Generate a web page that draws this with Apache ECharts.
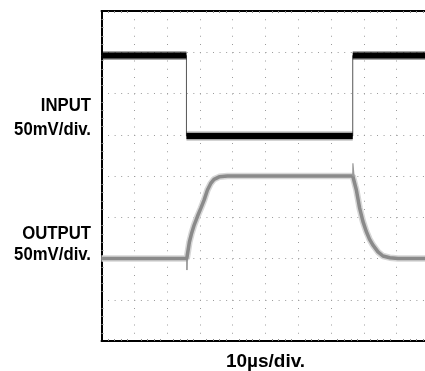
<!DOCTYPE html>
<html>
<head>
<meta charset="utf-8">
<script src="https://cdn.jsdelivr.net/npm/echarts@6/dist/echarts.min.js"></script>
<style>
html,body{margin:0;padding:0;background:#fff;}
#chart{width:425px;height:371px;}
</style>
</head>
<body>
<div id="chart"></div>
<script>
// Scope trace values, in divisions (x: 0..10 time divisions, y: 0..8 vertical divisions)
const xTicks = [0, 1, 2, 3, 4, 5, 6, 7, 8, 9, 10];
const yTicks = [0, 1, 2, 3, 4, 5, 6, 7, 8];

const inputX = [0, 2.59, 2.59, 7.66, 7.66, 10];
const inputY = [6.92, 6.92, 4.97, 4.97, 6.92, 6.92];

const outputX = [0, 2.60, 2.62, 2.68, 2.75, 2.82, 2.93, 3.03, 3.13, 3.23, 3.33, 3.43, 3.59, 3.84, 7.66, 7.70, 7.77, 7.87, 7.97, 8.07, 8.17, 8.28, 8.43, 8.58, 8.79, 9.04, 10];
const outputY = [2.0, 2.0, 2.10, 2.40, 2.62, 2.80, 3.03, 3.22, 3.42, 3.66, 3.82, 3.92, 3.98, 4.0, 4.0, 3.98, 3.66, 3.22, 2.90, 2.66, 2.47, 2.32, 2.16, 2.06, 2.02, 2.0, 2.0];

const riseGlitchX = [2.60, 2.605, 2.62];
const riseGlitchY = [2.0, 1.72, 2.10];
const fallGlitchX = [7.66, 7.665, 7.70];
const fallGlitchY = [4.0, 4.31, 3.98];

const labels = ['INPUT', '50mV/div.', 'OUTPUT', '50mV/div.'];
const xAxisLabel = '10µs/div.';

const zip = (xs, ys) => xs.map((x, i) => [x, ys[i]]);

// split input into flat plateaus (thick, noisy band); edges are drawn thin
function plateaus(xs, ys) {
  const out = [];
  for (let i = 0; i < xs.length - 1; i++) {
    if (ys[i] === ys[i + 1]) {
      out.push([xs[i], ys[i]], [xs[i + 1], ys[i + 1]], '-');
    }
  }
  return out;
}

const FONT = "'Liberation Sans', Arial, sans-serif";
const chart = echarts.init(document.getElementById('chart'), null, {renderer: 'canvas'});

const dotGrey = '#9a9a9a';
function labelText(txt, y) {
  return {
    type: 'text', x: 91, y: y, scaleX: 0.93, scaleY: 1, silent: true,
    style: {text: txt, x: 0, y: 0, font: "bold 18px " + FONT, fill: '#000',
            textAlign: 'right', textVerticalAlign: 'middle'}
  };
}
const minor = {show: true, splitNumber: 5, length: 2, lineStyle: {color: '#888', width: 1}};
const option = {
  animation: false,
  backgroundColor: '#ffffff',
  grid: {left: 101.5, top: 11, width: 328, height: 330, containLabel: false, outerBoundsMode: 'none'},
  xAxis: [{
    type: 'value', min: 0, max: 10, interval: 1, position: 'bottom',
    name: xAxisLabel, nameLocation: 'middle', nameGap: 20.5,
    nameTextStyle: {fontFamily: FONT, fontWeight: 'bold', fontSize: 19, color: '#000', verticalAlign: 'middle'},
    axisLine: {show: true, onZero: false, lineStyle: {color: '#000', width: 2}},
    axisTick: {show: false, inside: true},
    minorTick: minor,
    axisLabel: {show: false},
    splitLine: {show: true, lineStyle: {color: dotGrey, width: 1, type: [1, 7.25]}}
  }, {
    type: 'value', min: 0, max: 10, interval: 1, position: 'top',
    axisLine: {show: true, onZero: false, lineStyle: {color: '#000', width: 2}},
    axisTick: {show: false, inside: true},
    minorTick: minor,
    axisLabel: {show: false},
    splitLine: {show: false}
  }],
  yAxis: [{
    type: 'value', min: 0, max: 8, interval: 1, position: 'left',
    axisLine: {show: true, onZero: false, lineStyle: {color: '#000', width: 2}},
    axisTick: {show: false, inside: true},
    minorTick: minor,
    axisLabel: {show: false},
    splitLine: {show: true, lineStyle: {color: dotGrey, width: 1, type: [1, 5.56]}}
  }, {
    type: 'value', min: 0, max: 8, interval: 1, position: 'right',
    axisLine: {show: true, onZero: false, lineStyle: {color: '#000', width: 2}},
    axisTick: {show: false}, axisLabel: {show: false}, splitLine: {show: false}
  }],
  series: [
    // output trace: soft halo + core + thin glitches
    {type: 'line', data: zip(outputX, outputY), showSymbol: false,
     lineStyle: {color: '#d6d6d6', width: 6.5}, z: 2, silent: true},
    {type: 'line', data: zip(outputX, outputY), showSymbol: false,
     lineStyle: {color: '#8a8a8a', width: 3.5}, z: 3, silent: true},
    {type: 'line', data: zip(riseGlitchX, riseGlitchY), showSymbol: false,
     lineStyle: {color: '#8a8a8a', width: 1}, z: 3, silent: true},
    {type: 'line', data: zip(fallGlitchX, fallGlitchY), showSymbol: false,
     lineStyle: {color: '#9a9a9a', width: 1.2}, z: 3, silent: true},
    // input trace: thin edges + thick noisy plateaus
    {type: 'line', data: zip(inputX, inputY), showSymbol: false,
     lineStyle: {color: '#555', width: 1}, z: 4, silent: true},
    {type: 'line', data: plateaus(inputX, inputY), showSymbol: false, connectNulls: false,
     lineStyle: {color: 'rgba(0,0,0,0.35)', width: 9, cap: 'butt'}, z: 4, silent: true},
    {type: 'line', data: plateaus(inputX, inputY), showSymbol: false, connectNulls: false,
     lineStyle: {color: '#000', width: 6, cap: 'butt'}, z: 5, silent: true}
  ],
  graphic: [
    labelText(labels[0], 106),
    labelText(labels[1], 130.5),
    labelText(labels[2], 234),
    labelText(labels[3], 255)
  ]
};
chart.setOption(option);
</script>
</body>
</html>
